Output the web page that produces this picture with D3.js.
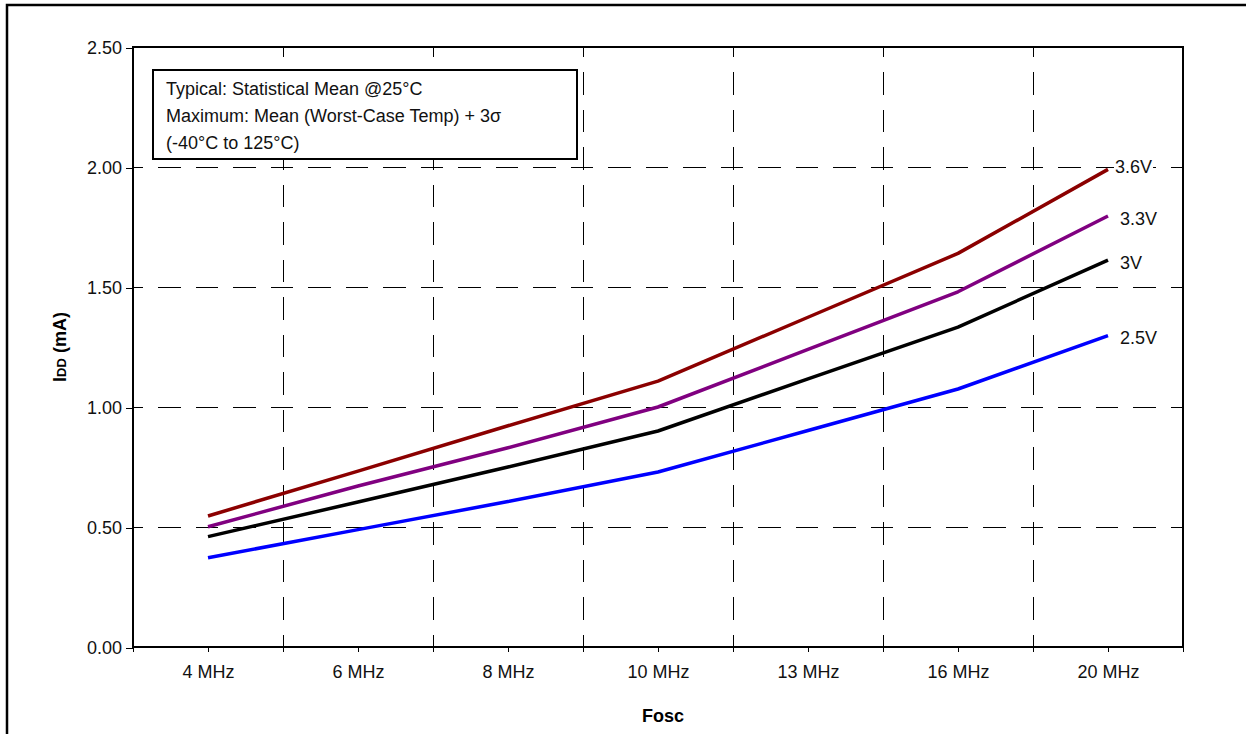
<!DOCTYPE html>
<html>
<head>
<meta charset="utf-8">
<script src="https://cdn.jsdelivr.net/npm/d3@7"></script>
<style>
  html, body { margin: 0; padding: 0; background: #fff; }
  svg { display: block; font-family: "Liberation Sans", Arial, sans-serif; }
</style>
</head>
<body>
<svg id="chart" width="1246" height="734"></svg>
<script>
// ---- data ----
const categories = ["4 MHz", "6 MHz", "8 MHz", "10 MHz", "13 MHz", "16 MHz", "20 MHz"];
const v36 = [0.546, 0.733, 0.922, 1.108, 1.374, 1.640, 1.990];
const v33 = [0.501, 0.671, 0.830, 1.000, 1.240, 1.480, 1.796];
const v30 = [0.460, 0.604, 0.750, 0.900, 1.117, 1.333, 1.612];
const v25 = [0.372, 0.489, 0.606, 0.729, 0.902, 1.075, 1.297];
const seriesNames = ["3.6V", "3.3V", "3V", "2.5V"];
const yTicks = [0, 0.5, 1.0, 1.5, 2.0, 2.5];
const legendLines = ["Typical: Statistical Mean @25°C", "Maximum: Mean (Worst-Case Temp) + 3σ", "(-40°C to 125°C)"];

const series = [
  { name: seriesNames[0], values: v36, color: "#8B0000", dx: 7, dy: 4 },
  { name: seriesNames[1], values: v33, color: "#800080", dx: 12, dy: 9 },
  { name: seriesNames[2], values: v30, color: "#000000", dx: 12, dy: 9 },
  { name: seriesNames[3], values: v25, color: "#0000FF", dx: 12, dy: 8 }
];

// ---- layout ----
const L = 133, R = 1183, T = 47, B = 647;
const svg = d3.select("#chart");

const x = d3.scaleBand().domain(categories).range([L, R]).padding(0);
const bw = x.bandwidth();
const xc = c => x(c) + bw / 2;
const y = d3.scaleLinear().domain([0, 2.5]).range([B, T]);

// outer frame
svg.append("path").attr("d", `M7,734 L7,5 L1250,5`)
  .attr("fill", "none").attr("stroke", "#000").attr("stroke-width", 2.5);

// gridlines (dashed)
const grid = svg.append("g").attr("stroke", "#000").attr("stroke-width", 1)
  .attr("shape-rendering", "crispEdges")
  .attr("stroke-dasharray", "22.5,15").attr("stroke-dashoffset", 12.5);
yTicks.filter(t => t > 0 && t < 2.5).forEach(t => {
  grid.append("line").attr("x1", L).attr("x2", R).attr("y1", y(t) + 0.5).attr("y2", y(t) + 0.5);
});
categories.slice(1).forEach(c => {
  grid.append("line").attr("x1", x(c) + 0.5).attr("x2", x(c) + 0.5).attr("y1", T).attr("y2", B);
});

// y axis
const yAxis = d3.axisLeft(y).tickValues(yTicks).tickFormat(d3.format(".2f")).tickSize(7).tickPadding(4);
const gy = svg.append("g").attr("transform", `translate(${L},0.5)`).call(yAxis);
gy.select(".domain").remove();
gy.selectAll("line").attr("stroke", "#000").attr("stroke-width", 1).attr("shape-rendering", "crispEdges");
gy.selectAll("text").attr("font-size", 18).attr("fill", "#111")
  .attr("font-family", "'Liberation Sans', Arial, sans-serif").attr("dy", "0.35em");

// x axis (labels at band centres)
const xAxis = d3.axisBottom(x).tickSize(5).tickSizeOuter(0).tickPadding(13);
const gx = svg.append("g").attr("transform", `translate(0.5,${B})`).call(xAxis);
gx.select(".domain").remove();
gx.selectAll("line").attr("stroke", "#000").attr("stroke-width", 1).attr("shape-rendering", "crispEdges");
gx.selectAll("text").attr("font-size", 18).attr("fill", "#111")
  .attr("font-family", "'Liberation Sans', Arial, sans-serif");
// boundary ticks
const bounds = categories.map(c => x(c)).concat([R]);
svg.append("g").selectAll("line").data(bounds).join("line")
  .attr("x1", d => d + 0.5).attr("x2", d => d + 0.5).attr("y1", B).attr("y2", B + 5)
  .attr("stroke", "#000").attr("stroke-width", 1).attr("shape-rendering", "crispEdges");

// plot frame
svg.append("rect").attr("x", L).attr("y", T).attr("width", R - L).attr("height", B - T)
  .attr("fill", "none").attr("stroke", "#000").attr("stroke-width", 2);

// legend box
svg.append("rect").attr("x", 153).attr("y", 70).attr("width", 424).attr("height", 89)
  .attr("fill", "#fff").attr("stroke", "#000").attr("stroke-width", 2);
svg.append("g").selectAll("text").data(legendLines).join("text")
  .attr("x", 166).attr("y", (d, i) => 95 + i * 27)
  .attr("font-size", 18).attr("fill", "#111").text(d => d);

// lines
const line = d3.line().x((d, i) => xc(categories[i])).y(d => y(d));
series.forEach(s => {
  svg.append("path").datum(s.values).attr("d", line)
    .attr("fill", "none").attr("stroke", s.color).attr("stroke-width", 3.5)
    .attr("stroke-linejoin", "round");
});
series.forEach(s => {
  const last = s.values[s.values.length - 1];
  const t = svg.append("text")
    .attr("x", xc(categories[categories.length - 1]) + s.dx)
    .attr("y", y(last) + s.dy)
    .attr("font-size", 18).attr("fill", "#111").text(s.name);
  const bb = t.node().getBBox();
  svg.insert("rect", () => t.node())
    .attr("x", bb.x - 1).attr("y", bb.y).attr("width", bb.width + 2).attr("height", bb.height)
    .attr("fill", "#fff");
});

// axis titles
svg.append("text").attr("x", 663).attr("y", 722).attr("text-anchor", "middle")
  .attr("font-size", 18).attr("font-weight", "bold").attr("fill", "#000").text("Fosc");

const yt = svg.append("text").attr("transform", `translate(66,${(T + B) / 2}) rotate(-90)`)
  .attr("text-anchor", "middle").attr("font-size", 18).attr("font-weight", "bold").attr("fill", "#000");
yt.append("tspan").text("I");
yt.append("tspan").attr("font-size", 13).text("DD");
yt.append("tspan").text(" (mA)");
</script>
</body>
</html>
